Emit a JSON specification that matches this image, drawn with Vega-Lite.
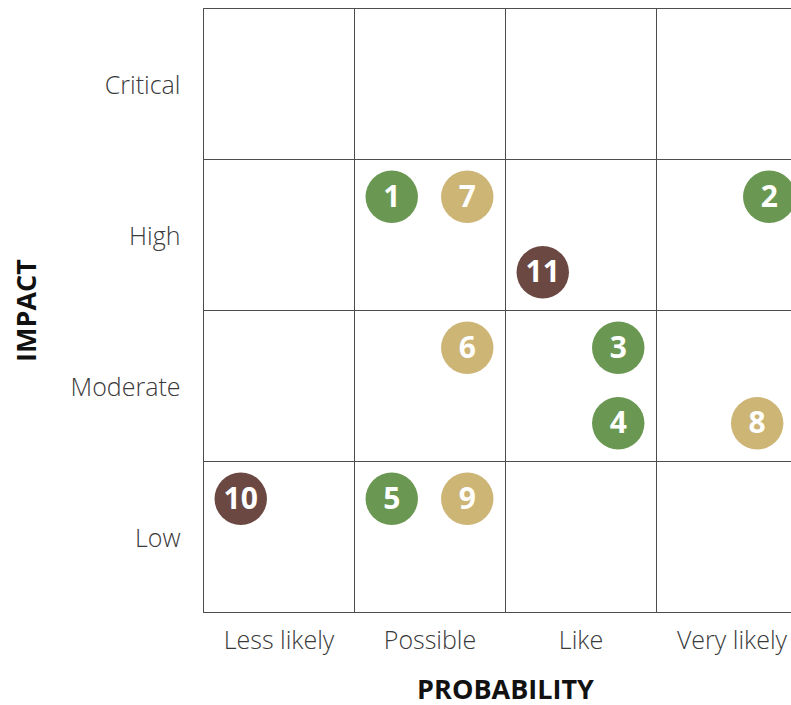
{
  "$schema": "https://vega.github.io/schema/vega-lite/v6.json",
  "autosize": {"type": "none"},
  "padding": {"left": 203, "top": 8, "right": 0, "bottom": 93},
  "width": 588,
  "height": 604,
  "background": "white",
  "config": {
    "view": {"stroke": null},
    "axis": {
      "labelFont": "Open Sans",
      "labelFontWeight": 300,
      "labelFontSize": 25,
      "labelColor": "#3a3a3a",
      "titleFont": "Open Sans",
      "titleFontWeight": "bold",
      "titleFontSize": 27,
      "titleColor": "#111111",
      "gridColor": "#4d4d4d",
      "gridOpacity": 1,
      "gridWidth": 1,
      "domainColor": "#4d4d4d",
      "domainWidth": 1,
      "ticks": false,
      "labelOverlap": false,
      "labelFlush": false,
      "labelBound": false
    }
  },
  "data": {
    "values": [
      {"id": "1", "prob": 1.25, "impact": 2.75, "group": "green"},
      {"id": "7", "prob": 1.75, "impact": 2.75, "group": "tan"},
      {"id": "2", "prob": 3.75, "impact": 2.75, "group": "green"},
      {"id": "11", "prob": 2.25, "impact": 2.25, "group": "brown"},
      {"id": "6", "prob": 1.75, "impact": 1.75, "group": "tan"},
      {"id": "3", "prob": 2.75, "impact": 1.75, "group": "green"},
      {"id": "4", "prob": 2.75, "impact": 1.25, "group": "green"},
      {"id": "8", "prob": 3.67, "impact": 1.25, "group": "tan"},
      {"id": "10", "prob": 0.25, "impact": 0.75, "group": "brown"},
      {"id": "5", "prob": 1.25, "impact": 0.75, "group": "green"},
      {"id": "9", "prob": 1.75, "impact": 0.75, "group": "tan"}
    ]
  },
  "encoding": {
    "x": {
      "field": "prob",
      "type": "quantitative",
      "scale": {"domain": [0, 3.894], "nice": false, "zero": false},
      "axis": {
        "title": "PROBABILITY",
        "values": [0, 1, 2, 3],
        "grid": true,
        "labelOffset": 75.5,
        "labelPadding": 16,
        "titlePadding": 24,
        "titleX": 302,
        "labelExpr": "['Less likely','Possible','Like','Very likely'][datum.value]"
      }
    },
    "y": {
      "field": "impact",
      "type": "quantitative",
      "scale": {"domain": [0, 4], "nice": false, "zero": false},
      "axis": {
        "title": "IMPACT",
        "values": [0, 1, 2, 3, 4],
        "grid": true,
        "labelOffset": -73.5,
        "labelPadding": 23,
        "titlePadding": 29,
        "labelBaseline": "middle",
        "labelExpr": "['Low','Moderate','High','Critical',''][datum.value]"
      }
    }
  },
  "layer": [
    {
      "mark": {"type": "circle", "size": 2750, "opacity": 1},
      "encoding": {
        "color": {
          "field": "group",
          "type": "nominal",
          "scale": {"domain": ["green", "tan", "brown"], "range": ["#6a9852", "#cdb576", "#6b4842"]},
          "legend": null
        }
      }
    },
    {
      "mark": {"type": "text", "font": "Open Sans", "fontWeight": "bold", "fontSize": 30, "color": "white", "baseline": "middle", "dy": 1},
      "encoding": {"text": {"field": "id"}}
    }
  ]
}
